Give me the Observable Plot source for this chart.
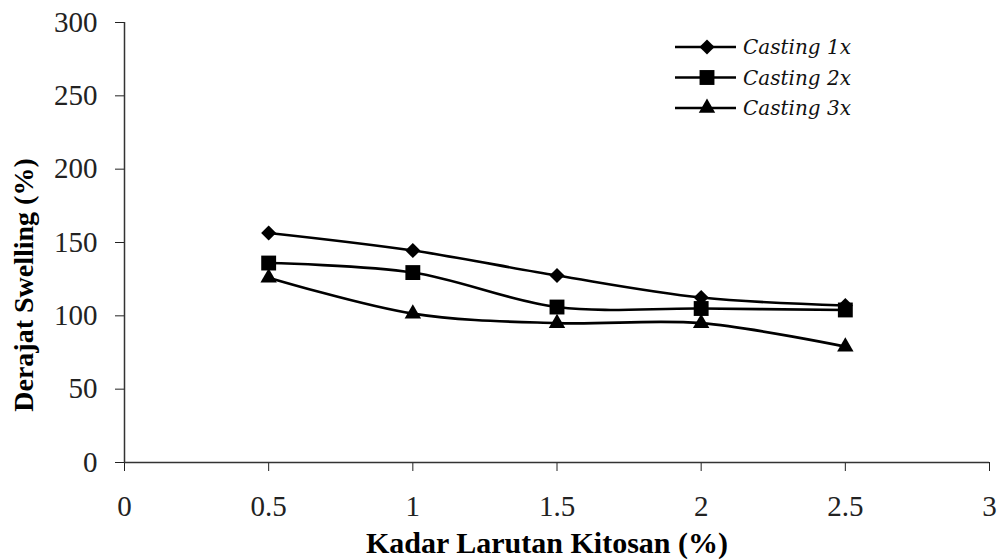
<!DOCTYPE html>
<html>
<head>
<meta charset="utf-8">
<script src="https://cdn.jsdelivr.net/npm/d3@7"></script>
<script src="https://cdn.jsdelivr.net/npm/@observablehq/plot@0.6"></script>
<style>
  body { margin: 0; background: #fff; }
  #chart { position: relative; width: 998px; height: 560px; }
</style>
</head>
<body>
<div id="chart"></div>
<script>
// Chitosan concentration (%) on the x axis
const concentrations = [0.5, 1, 1.5, 2, 2.5];

// Degree of swelling (%) for each number of casting layers
const casting1x = [156.5, 144.5, 127.5, 112.5, 107];
const casting2x = [136, 129.5, 106, 105, 104];
const casting3x = [126, 101.5, 95, 95, 79];

const seriesNames = ["Casting 1x", "Casting 2x", "Casting 3x"];
const seriesValues = [casting1x, casting2x, casting3x];

const xTicks = [0, 0.5, 1, 1.5, 2, 2.5, 3];
const yTicks = [0, 50, 100, 150, 200, 250, 300];

const xTitle = "Kadar Larutan Kitosan (%)";
const yTitle = "Derajat Swelling (%)";

// Marker shape and radius for each series
const seriesSymbols = [d3.symbolDiamond2 || d3.symbolDiamond, d3.symbolSquare, d3.symbolTriangle];
const seriesRadius = [6.8, 8.4, 6.1];

const rows = seriesNames.flatMap((name, i) =>
  concentrations.map((c, j) => ({series: name, kadar: c, swelling: seriesValues[i][j]}))
);

const W = 998, H = 560;
const margin = {top: 22, right: 9, bottom: 98, left: 124};

const marks = [
  Plot.axisX(xTicks, {tickSize: 9, tickPadding: 24, label: null, tickFormat: d => String(d)}),
  Plot.axisY(yTicks, {tickSize: 9, tickPadding: 18, label: null}),
  Plot.ruleY([0], {stroke: "#333", strokeWidth: 1.5}),
  Plot.ruleX([0], {stroke: "#333", strokeWidth: 1.5})
];

seriesNames.forEach((name, i) => {
  const data = rows.filter(d => d.series === name);
  marks.push(Plot.line(data, {
    x: "kadar", y: "swelling",
    stroke: "#000", strokeWidth: 2.6, curve: "catmull-rom"
  }));
});
seriesNames.forEach((name, i) => {
  const data = rows.filter(d => d.series === name);
  marks.push(Plot.dot(data, {
    x: "kadar", y: "swelling",
    symbol: seriesSymbols[i], r: seriesRadius[i],
    fill: "#000", stroke: "none"
  }));
});

const plot = Plot.plot({
  width: W,
  height: H,
  marginTop: margin.top,
  marginRight: margin.right,
  marginBottom: margin.bottom,
  marginLeft: margin.left,
  x: {domain: [0, 3], axis: null},
  y: {domain: [0, 300], axis: null},
  style: {fontFamily: "'Liberation Serif', 'Times New Roman', serif", fontSize: "29px", color: "#222", background: "#fff"},
  marks
});

document.getElementById("chart").appendChild(plot);

const svg = d3.select(plot);

// Axis titles
svg.append("text")
  .attr("x", 547).attr("y", 553)
  .attr("text-anchor", "middle")
  .attr("font-family", "'Liberation Serif', 'Times New Roman', serif")
  .attr("font-weight", "bold")
  .attr("font-size", 30)
  .attr("fill", "#000")
  .text(xTitle);

svg.append("text")
  .attr("transform", "translate(33,285) rotate(-90)")
  .attr("text-anchor", "middle")
  .attr("font-family", "'Liberation Serif', 'Times New Roman', serif")
  .attr("font-weight", "bold")
  .attr("font-size", 28)
  .attr("fill", "#000")
  .text(yTitle);

// Legend in the upper right of the plot area
const legend = svg.append("g").attr("transform", "translate(675,47)");
const rowGap = 30.5;
seriesNames.forEach((name, i) => {
  const g = legend.append("g").attr("transform", `translate(0,${i * rowGap})`);
  g.append("line").attr("x1", 0).attr("x2", 61).attr("y1", 0).attr("y2", 0)
    .attr("stroke", "#000").attr("stroke-width", 2.6);
  g.append("path")
    .attr("transform", "translate(32,0)")
    .attr("d", d3.symbol(seriesSymbols[i], Math.PI * seriesRadius[i] * seriesRadius[i])())
    .attr("fill", "#000");
  g.append("text")
    .attr("x", 68).attr("y", 0).attr("dy", "0.35em")
    .attr("text-anchor", "start")
    .attr("font-family", "'DejaVu Serif', serif")
    .attr("font-style", "italic")
    .attr("font-size", 20)
    .attr("fill", "#111")
    .text(name);
});
</script>
</body>
</html>
